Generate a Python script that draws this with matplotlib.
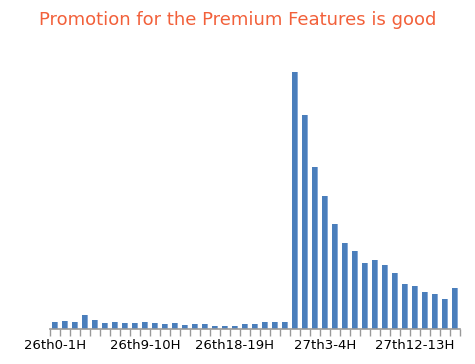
import matplotlib
matplotlib.use("Agg")
import matplotlib.pyplot as plt

labels = [f"26th{h}-{h+1}H" for h in range(24)] + [f"27th{h}-{h+1}H" for h in range(17)]
values = [7.3, 8.3, 7, 14.3, 9, 6, 7, 5.7, 6.3, 7, 6.3, 5.3, 6.3, 4.5, 5,
          5, 3.3, 3.3, 3.3, 5, 5, 7, 7.3, 7.3,
          257, 214, 162.3, 133.3, 104.7, 86.3, 78.3, 65.7, 69.3, 64, 55.7,
          45, 43.3, 37.3, 35.3, 29.7, 41.3]
title = "Promotion for the Premium Features is good"

fig = plt.figure(figsize=(4.75, 3.64), dpi=100)
ax = fig.add_axes([50/475, 1-329/364, 410/475, (329-72)/364])
x = list(range(len(values)))
ax.bar(x, values, width=0.6, color="#4a7ebb", edgecolor="none")
ax.bar([i + 0.2 for i in x], values, width=0.1, align="edge", color="#86a9d6", edgecolor="none")
ax.set_xlim(-0.5, len(values)-0.5)
ax.set_ylim(0, max(values))
for s in ["top", "right", "left"]:
    ax.spines[s].set_visible(False)
ax.spines["bottom"].set_color("#999999")
ax.spines["bottom"].set_linewidth(1.2)
ax.set_yticks([])
ax.set_xticks([i - 0.5 for i in range(len(values)+1)])
ax.set_xticklabels([])
ax.tick_params(axis="x", which="major", length=5, color="#999999", width=1)
ax.set_xticks(x[::9], minor=True)
ax.set_xticklabels(labels[::9], minor=True, fontsize=9.5)
ax.tick_params(axis="x", which="minor", length=0, pad=7)
fig.text(0.5, 1-20/364, title, ha="center", va="center", fontsize=13, color="#f2603a")
fig.savefig("out.png", dpi=100)
